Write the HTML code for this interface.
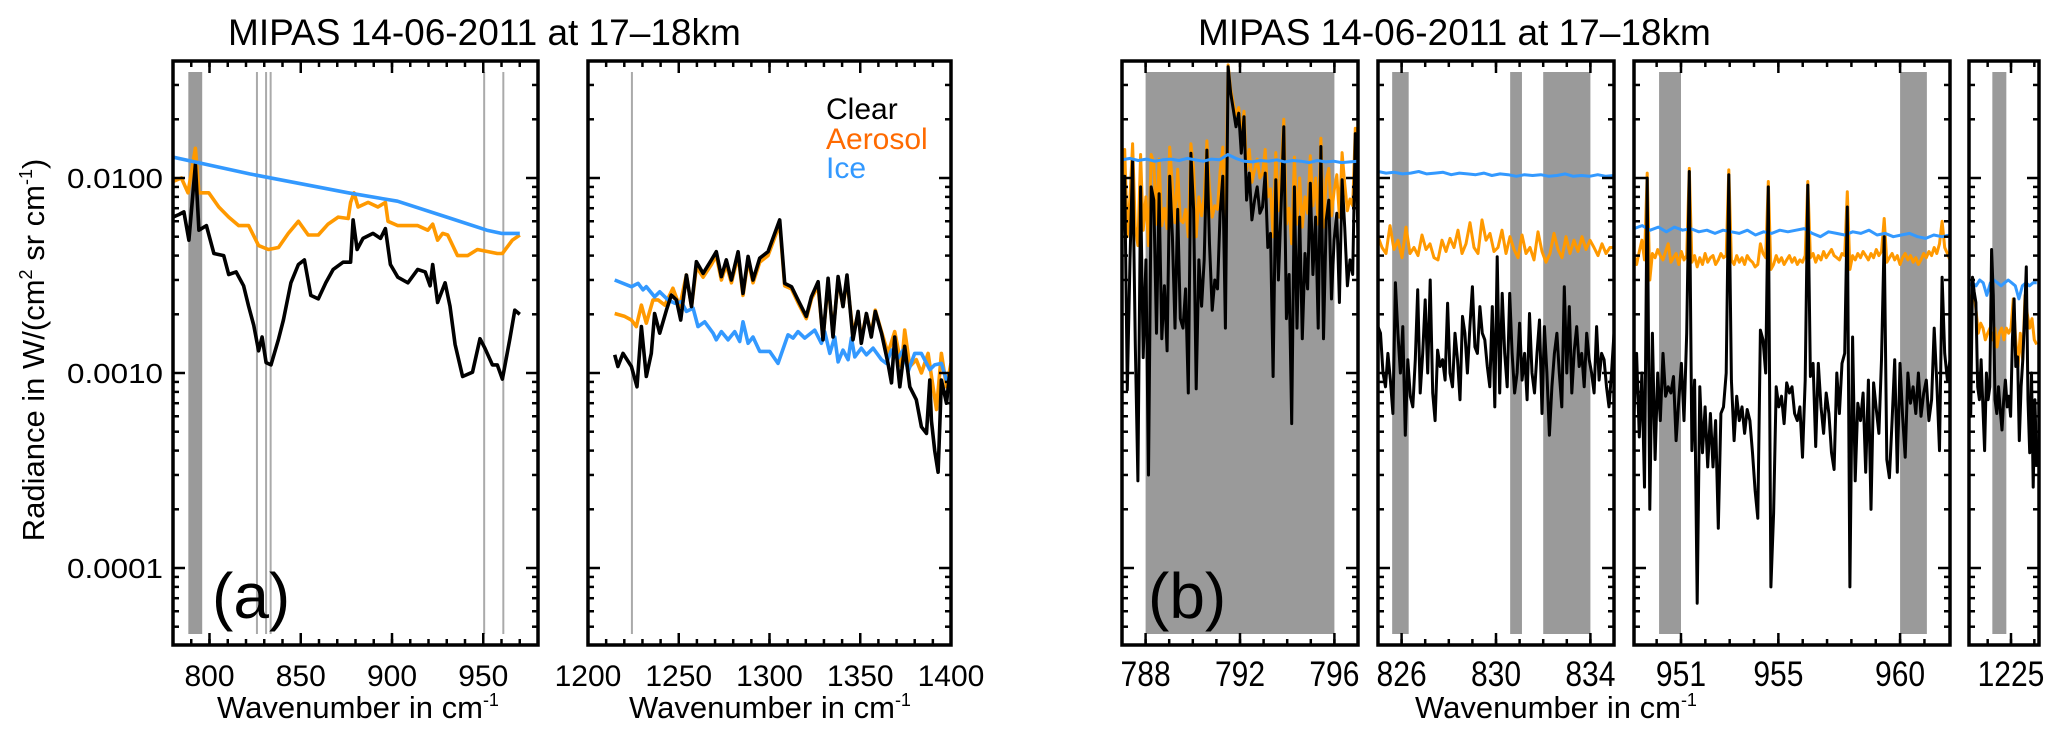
<!DOCTYPE html>
<html><head><meta charset="utf-8"><style>
html,body{margin:0;padding:0;background:#fff;}
svg{display:block;font-family:"Liberation Sans",Arial,sans-serif;}
</style></head><body>
<svg id="chart" width="2067" height="738" viewBox="0 0 2067 738" xmlns="http://www.w3.org/2000/svg">
<text x="228" y="45" font-size="37">MIPAS 14-06-2011 at 17–18km</text>
<text x="1198" y="45" font-size="37">MIPAS 14-06-2011 at 17–18km</text>
<text transform="translate(44,350) rotate(-90)" text-anchor="middle" font-size="31">Radiance in W/(cm<tspan font-size="18" dy="-12">2</tspan><tspan dy="12"> sr cm</tspan><tspan font-size="18" dy="-12">-1</tspan><tspan dy="12">)</tspan></text>
<text x="358" y="718" text-anchor="middle" font-size="31">Wavenumber in cm<tspan font-size="18" dy="-12">-1</tspan></text>
<text x="770" y="718" text-anchor="middle" font-size="31">Wavenumber in cm<tspan font-size="18" dy="-12">-1</tspan></text>
<text x="1556" y="718" text-anchor="middle" font-size="31">Wavenumber in cm<tspan font-size="18" dy="-12">-1</tspan></text>
<g id="plots"></g>
<text x="212" y="618" font-size="64">(a)</text>
<text x="1148" y="618" font-size="64">(b)</text>
<text x="826" y="119" font-size="30" fill="#000">Clear</text>
<text x="826" y="149" font-size="30" fill="#FF6A00">Aerosol</text>
<text x="826" y="178" font-size="30" fill="#3399FF">Ice</text>
</svg>
<script>
// ---------- data ----------
const a1ClearWn=[780,783.3,786,788.7,792.3,794.2,798.3,802.4,807.8,810.5,814.6,818.7,821.4,824.2,826.9,828.8,831,833.7,837.8,840.5,844.6,848.7,852,855.5,859.6,863.7,867.8,873.2,877.3,878.7,880.9,884.1,889.6,893.7,896.4,899.1,903.2,908.7,914.1,918.2,920.9,922.3,925,929.1,931.8,934.6,938.7,944.1,948.2,950.9,955,957.7,960.5,964.6,967.3,970];
const a1Clear=[0.0063,0.0065,0.0067,0.0048,0.0117,0.0054,0.0057,0.0041,0.0040,0.0032,0.0033,0.0028,0.0022,0.00176,0.0013,0.00153,0.00113,0.0011,0.00149,0.00187,0.0029,0.0036,0.0038,0.0025,0.0024,0.0029,0.0034,0.0037,0.0037,0.0061,0.0043,0.0049,0.0052,0.0049,0.0055,0.0036,0.0031,0.0029,0.0034,0.0033,0.0028,0.0036,0.0023,0.0029,0.0022,0.0014,0.00096,0.00101,0.0015,0.00134,0.0011,0.0011,0.00093,0.0015,0.0021,0.0020];
const a1AerosolWn=[780,784.6,788.2,792.3,794.2,799.6,805.1,810.5,816,821.4,826.9,832.3,837.8,843.2,848.7,854.1,859.6,865,870.5,876,877.3,879.2,881.4,886.9,892.3,896.4,897.8,903.2,914.1,919.6,922.3,925,927.7,930.5,935.9,941.4,946.8,952.3,957.7,960.5,965.9,970];
const a1Aerosol=[0.0096,0.0100,0.0084,0.0142,0.0084,0.0084,0.0071,0.0063,0.0057,0.0057,0.0045,0.0043,0.0044,0.0052,0.0060,0.0051,0.0051,0.0058,0.0063,0.0062,0.0075,0.0084,0.0071,0.0075,0.0071,0.0075,0.0060,0.0057,0.0057,0.0054,0.0058,0.0048,0.0052,0.0051,0.0040,0.0040,0.0043,0.0042,0.0041,0.0041,0.0048,0.0051];
const a1IceWn=[780,822,876,903,930,952,960,970];
const a1Ice=[0.0128,0.0105,0.0084,0.0076,0.0063,0.0054,0.0052,0.0052];

const a2ClearWn=[1214.7,1216.5,1219.3,1223.9,1227,1229.4,1232.1,1234.9,1236.7,1239.5,1243.2,1245.9,1248.7,1251.1,1254.2,1257,1259.7,1263.4,1268,1270.7,1273.5,1276.2,1279,1282.7,1285.4,1288.2,1290.9,1294.6,1299.2,1305.6,1308.4,1312.1,1315.7,1320.3,1323.1,1326.8,1329.5,1332.3,1335,1337.8,1340.5,1342.7,1346,1348.8,1350.6,1353.4,1356.1,1358.3,1361.7,1365.3,1367.2,1369,1371.8,1374.5,1377.3,1380.9,1383.7,1386.5,1388.3,1389.2,1391,1392.9,1394.7,1397.5,1399.3];
const a2Clear=[0.00124,0.00108,0.00126,0.00108,0.00085,0.00173,0.00096,0.00126,0.00202,0.0016,0.0021,0.00251,0.00237,0.00187,0.00318,0.00219,0.00372,0.00324,0.0038,0.00419,0.00312,0.0038,0.003,0.00419,0.00256,0.00396,0.003,0.00388,0.00419,0.0061,0.00288,0.00277,0.00237,0.00195,0.00246,0.00294,0.00148,0.00306,0.00153,0.00312,0.00219,0.00318,0.00148,0.00207,0.00142,0.00202,0.00153,0.00207,0.0016,0.00112,0.00089,0.00153,0.00085,0.00137,0.00085,0.00073,0.00053,0.00049,0.00092,0.00057,0.0004,0.00031,0.00092,0.0007,0.001];
const a2AerosolWn=[1214.7,1220.2,1223.9,1226.6,1229.4,1232.1,1235.8,1238.6,1242.3,1246.8,1250.5,1254.2,1257,1259.7,1263.4,1268,1270.7,1273.5,1276.2,1279,1282.7,1285.4,1288.2,1290.9,1294.6,1299.2,1305.6,1308.4,1312.1,1315.7,1320.3,1323.1,1326.8,1329.5,1332.3,1335,1337.8,1340.5,1342.7,1346,1348.8,1350.6,1353.4,1356.1,1358.3,1361.7,1365.3,1369,1372.7,1374.5,1377.3,1380.9,1383.7,1387.4,1390.1,1392,1394.7,1397.5,1400];
const a2Aerosol=[0.00202,0.00195,0.00187,0.00173,0.00223,0.0018,0.00237,0.00237,0.00223,0.00272,0.00219,0.00318,0.00219,0.0035,0.0031,0.0036,0.004,0.003,0.0036,0.0029,0.004,0.0025,0.0038,0.0029,0.0037,0.004,0.0058,0.0028,0.0027,0.0023,0.0019,0.0024,0.0028,0.0015,0.0029,0.0016,0.003,0.0022,0.003,0.0016,0.002,0.0015,0.002,0.0016,0.0021,0.00163,0.00126,0.00163,0.00108,0.00166,0.00108,0.00117,0.001,0.00126,0.00085,0.00065,0.00126,0.00085,0.00112];
const a2IceWn=[1214.7,1223.9,1227.6,1230.3,1232.1,1236.7,1239.5,1244.1,1247.8,1251.4,1254.2,1257.9,1260.6,1264.3,1268.9,1270.7,1273.5,1277.2,1280.8,1283.6,1285.4,1288.2,1290.9,1294.6,1300.1,1304.7,1310.2,1313,1315.7,1319.4,1324.9,1328.6,1330.4,1333.2,1335.9,1337.8,1340.5,1343.3,1345.1,1347,1350.6,1353.4,1357.1,1361.7,1364.4,1367.2,1370.8,1373.6,1376.4,1380,1383.7,1388.3,1391,1394.7,1397.5,1400];
const a2Ice=[0.003,0.00277,0.00288,0.00267,0.00277,0.00246,0.00261,0.00237,0.00228,0.00232,0.00207,0.00215,0.00173,0.00183,0.0016,0.00148,0.00163,0.00148,0.00163,0.00145,0.00183,0.00142,0.00153,0.00129,0.00129,0.00112,0.00157,0.00151,0.00163,0.00151,0.00166,0.00142,0.00163,0.00126,0.00153,0.00114,0.00131,0.00117,0.00151,0.00121,0.00134,0.00124,0.00134,0.00117,0.00112,0.00131,0.00119,0.00131,0.00102,0.00126,0.00126,0.00104,0.0011,0.00112,0.00092,0.00094];

const b1Clear=[0.0050,0.0102,0.00082,0.0038,0.0124,0.0014,0.00028,0.0090,0.0012,0.0038,
0.0003,0.0090,0.0077,0.0016,0.0083,0.0015,0.0028,0.0013,0.0102,0.0050,
0.0017,0.0069,0.0019,0.0017,0.0027,0.00079,0.0134,0.0069,0.00083,0.0038,
0.0022,0.0038,0.0139,0.0046,0.0021,0.0030,0.0027,0.0066,0.0102,0.0017,
0.0372,0.0272,0.0223,0.0183,0.0215,0.0134,0.0206,0.0077,0.0106,0.0061,
0.0077,0.0090,0.0066,0.0071,0.0106,0.0044,0.0052,0.00096,0.0098,0.0030,
0.0071,0.0183,0.0019,0.0032,0.00055,0.0090,0.0017,0.0063,0.0015,0.0041,
0.0027,0.0094,0.0032,0.0063,0.0017,0.0145,0.0015,0.0061,0.0077,0.0024,
0.0048,0.0066,0.0023,0.0098,0.0056,0.0028,0.0038,0.0032,0.0169,0.0050];
const b1Aerosol=[0.0092,0.0140,0.0050,0.0080,0.0150,0.0056,0.0045,0.0132,0.0054,0.0080,
0.0045,0.0132,0.0119,0.0058,0.0125,0.0057,0.0070,0.0055,0.0144,0.0092,
0.0059,0.0111,0.0061,0.0059,0.0069,0.0050,0.0150,0.0111,0.0050,0.0080,
0.0064,0.0080,0.0155,0.0088,0.0063,0.0072,0.0069,0.0108,0.0144,0.0059,
0.0380,0.0285,0.0240,0.0210,0.0230,0.0160,0.0220,0.0110,0.0140,0.0095,
0.0110,0.0125,0.0100,0.0105,0.0140,0.0080,0.0088,0.0050,0.0135,0.0068,
0.0108,0.0200,0.0058,0.0070,0.0046,0.0128,0.0058,0.0100,0.0056,0.0080,
0.0066,0.0130,0.0072,0.0100,0.0058,0.0160,0.0056,0.0098,0.0112,0.0064,
0.0086,0.0104,0.0063,0.0135,0.0094,0.0068,0.0078,0.0072,0.0180,0.0090];
const b1Ice=[0.0124,0.0126,0.0123,0.0125,0.0122,0.0124,0.0125,0.0123,0.0126,0.0124,0.0122,0.0125,0.0124,0.0132,0.0126,0.0122,0.0121,0.0123,0.0122,0.0124,0.0121,0.0123,0.0122,0.0120,0.0123,0.0121,0.0122,0.0120,0.0121,0.0122];

const b2Clear=[0.00173,0.0016,0.0010,0.00085,0.00126,0.00092,0.00062,0.0029,0.0016,0.0010,
0.00173,0.00048,0.00117,0.00076,0.00067,0.00117,0.00267,0.00079,0.00126,0.00237,
0.0010,0.0030,0.00079,0.00057,0.00131,0.00108,0.00117,0.00092,0.00228,0.0010,
0.00085,0.0016,0.00117,0.00073,0.00195,0.0016,0.0010,0.00173,0.00277,0.00136,
0.00126,0.00219,0.0016,0.00148,0.00108,0.00085,0.00219,0.00067,0.00395,0.00079,
0.00256,0.00126,0.00085,0.00256,0.00126,0.00079,0.0010,0.0018,0.00092,0.00126,
0.00073,0.00202,0.0010,0.00079,0.00126,0.00187,0.00062,0.00173,0.0010,0.00048,
0.00085,0.00126,0.0016,0.0010,0.00067,0.00277,0.0010,0.00219,0.00079,0.00131,
0.00173,0.00108,0.00126,0.00085,0.0016,0.00117,0.0010,0.00079,0.00173,0.00092,
0.00126,0.00117,0.00085,0.00067,0.0010,0.0016];
const b2Aerosol=[0.0050,0.0044,0.0041,0.0057,0.0043,0.0048,0.0039,0.0056,0.0041,0.0044,
0.0040,0.0051,0.0043,0.0046,0.0039,0.0038,0.0048,0.0042,0.0049,0.0044,
0.0054,0.0041,0.0046,0.0059,0.0044,0.0041,0.0061,0.0048,0.0052,0.0042,
0.0044,0.0054,0.0041,0.0050,0.0043,0.0039,0.0051,0.0041,0.0044,0.0038,
0.0053,0.0042,0.0037,0.0041,0.0052,0.0043,0.0039,0.0050,0.0041,0.0048,
0.0042,0.0050,0.0043,0.0048,0.0044,0.0040,0.0046,0.0041,0.0044,0.0044];
const b2Ice=[0.0108,0.0106,0.0107,0.0105,0.0106,0.0108,0.0105,0.0106,0.0107,0.0104,0.0106,0.0105,0.0104,0.0106,0.0103,0.0105,0.0104,0.0102,0.0104,0.0103,0.0104,0.0102,0.0103,0.0105,0.0102,0.0103,0.0102,0.0104,0.0102,0.0103];

const b3Clear=[0.00062,0.00126,0.00047,0.0010,0.00026,0.0100,0.0002,0.0016,0.00036,0.0010,
0.00057,0.00126,0.00076,0.00085,0.00079,0.00096,0.00045,0.00073,0.00112,0.00057,
0.0016,0.0108,0.0004,0.00092,0.000066,0.00085,0.00039,0.00067,0.00033,0.00062,
0.00033,0.00057,0.00016,0.00062,0.00067,0.0010,0.0104,0.00092,0.00045,0.00076,
0.00057,0.00067,0.00049,0.00065,0.00057,0.00039,0.00025,0.00018,0.00166,0.00148,
0.0010,0.0090,0.00008,0.00019,0.00085,0.00067,0.00076,0.00055,0.00089,0.00079,
0.00085,0.00062,0.00057,0.00067,0.00037,0.00092,0.0092,0.00096,0.00112,0.00042,
0.00112,0.00067,0.00049,0.00079,0.00062,0.00039,0.00032,0.0010,0.00062,0.00112,
0.00126,0.0071,0.00008,0.00153,0.00028,0.0007,0.00057,0.00079,0.00031,0.00092,
0.0002,0.00089,0.00065,0.00049,0.00117,0.0050,0.00036,0.00029,0.00057,0.00117,
0.00031,0.00112,0.0006,0.00037,0.0010,0.0007,0.00085,0.00062,0.0010,0.0006,
0.00079,0.00092,0.00057,0.00073,0.0017,0.00089,0.0004,0.0031,0.00126,0.00092,
0.00117];
const b3Aerosol=[0.0040,0.0036,0.0042,0.0048,0.0038,0.0106,0.0030,0.0041,0.0039,0.0043,
0.0040,0.0038,0.0042,0.0046,0.0037,0.0039,0.0041,0.0036,0.0042,0.0038,
0.0040,0.0112,0.0037,0.0040,0.0035,0.0039,0.0036,0.0041,0.0037,0.0039,
0.0040,0.0036,0.0038,0.0041,0.0039,0.0040,0.0110,0.0038,0.0036,0.0040,
0.0037,0.0039,0.0036,0.0040,0.0038,0.0037,0.0035,0.0036,0.0046,0.0041,
0.0039,0.0096,0.0034,0.0036,0.0040,0.0037,0.0039,0.0036,0.0038,0.0040,
0.0037,0.0039,0.0036,0.0038,0.0037,0.0040,0.0096,0.0039,0.0041,0.0037,
0.0040,0.0038,0.0042,0.0039,0.0041,0.0043,0.0040,0.0039,0.0038,0.0041,
0.0040,0.0085,0.0034,0.0040,0.0038,0.0041,0.0039,0.0042,0.0040,0.0038,
0.0041,0.0039,0.0043,0.0040,0.0042,0.0062,0.0037,0.0039,0.0041,0.0038,
0.0040,0.0036,0.0039,0.0041,0.0038,0.0040,0.0037,0.0039,0.0036,0.0038,
0.0041,0.0039,0.0042,0.0040,0.0044,0.0041,0.0046,0.0060,0.0044,0.0041,
0.0038];
const b3Ice=[0.0055,0.0057,0.0054,0.0056,0.0053,0.0056,0.0054,0.0055,0.0053,0.0054,0.0052,0.0054,0.0053,0.0052,0.0054,0.0051,0.0053,0.0052,0.0054,0.0053,0.0054,0.0055,0.0052,0.0050,0.0053,0.0052,0.0051,0.0053,0.0052,0.0054,0.0051,0.0052,0.0050,0.0051,0.0052,0.0050,0.0049,0.0051,0.0050,0.0051];

const b4Clear=[0.00148,0.0006,0.0031,0.0026,0.0023,0.00085,0.00073,0.00117,0.00067,0.0004,0.0010,0.00073,0.00085,0.0043,0.0025,0.00073,0.00062,0.00085,0.00065,0.00051,0.00073,0.00092,0.00067,0.00076,0.0006,0.00148,0.0024,0.00108,0.00121,0.00045,0.00085,0.00117,0.0019,0.0035,0.00073,0.00039,0.0010,0.00026,0.00073,0.00033];
const b4Aerosol=[0.00148,0.0024,0.0027,0.0021,0.0016,0.0018,0.0017,0.00148,0.0016,0.0017,0.00148,0.0017,0.00136,0.0016,0.0017,0.00148,0.0017,0.0016,0.0017,0.0024,0.00148,0.00108,0.0016,0.00117,0.0025,0.0020,0.0017,0.0019,0.00148,0.0014];
const b4Ice=[0.0028,0.0029,0.0028,0.0030,0.0029,0.0025,0.0029,0.0030,0.0029,0.0028,0.0029,0.0030,0.0029,0.0028,0.0024,0.0028,0.0029,0.0028,0.0029,0.0029];

const yMajorTicks=[0.01,0.001,0.0001];
const yTickLabels=['0.0100','0.0010','0.0001'];
const a1XTicks=[800,850,900,950];
const a2XTicks=[1200,1250,1300,1350,1400];
const b1XTicks=[788,792,796];
const b2XTicks=[826,830,834];
const b3XTicks=[951,955,960];
const b4XTicks=[1225];
const a1Bands=[[788.4,796]];
const a1Lines=[826,831,833.5,950.5,961];
const a2Lines=[1224.2];
const b1Bands=[[788.0,796.0]];
const b2Bands=[[825.6,826.3],[830.6,831.1],[832.0,834.0]];
const b3Bands=[[950.1,951.0],[960.0,961.1]];
const b4Bands=[[1224.2,1224.8]];

// ---------- layout ----------
const TOP=61,BOT=645,BAND_TOP=72,BAND_BOT=634;
const C_CLEAR='#000',C_AER='#FF9900',C_ICE='#3399FF';
function yPix(v){return 178-(Math.log10(v)+2)*195;}
const svgNS='http://www.w3.org/2000/svg';
const root=document.getElementById('plots');
function mk(tag,attrs,parent){const e=document.createElementNS(svgNS,tag);for(const k in attrs)e.setAttribute(k,attrs[k]);(parent||root).appendChild(e);return e;}

function panel(cfg){
  const {id,x0,x1,d0,d1}=cfg;
  const xPix=w=>x0+(w-d0)/(d1-d0)*(x1-x0);
  const g=mk('g',{});
  
  
  const cp=mk('clipPath',{id:'clip-'+id},g);
  mk('rect',{x:x0,y:TOP,width:x1-x0,height:BOT-TOP},cp);
  const inner=mk('g',{'clip-path':'url(#clip-'+id+')'},g);
  (cfg.bands||[]).forEach(b=>{
    const r=mk('rect',{x:xPix(b[0]),y:BAND_TOP,width:xPix(b[1])-xPix(b[0]),height:BAND_BOT-BAND_TOP,fill:'#9a9a9a'},inner);
    
    
  });
  (cfg.lines||[]).forEach(w=>{
    const l=mk('line',{x1:xPix(w),x2:xPix(w),y1:BAND_TOP,y2:BAND_BOT,stroke:'#aaa','stroke-width':2},inner);
    
    
  });
  cfg.series.forEach(s=>{
    const n=s.v.length;
    const pts=s.v.map((v,i)=>{const w=s.wn?s.wn[i]:s.r[0]+i*(s.r[1]-s.r[0])/(n-1);return xPix(w).toFixed(1)+','+yPix(v).toFixed(1);}).join(' ');
    const p=mk('polyline',{points:pts,fill:'none',stroke:s.c,'stroke-width':cfg.sw,'stroke-linejoin':'round'},inner);
    
    
  });
  const tg=mk('g',{stroke:'#000','stroke-width':2.5},g);
  for(let w=Math.ceil(d0);w<=d1;w+=cfg.minor){
    const xm=xPix(w); if(xm<x0+2||xm>x1-2)continue;
    mk('line',{x1:xm,x2:xm,y1:BOT,y2:BOT-6},tg);mk('line',{x1:xm,x2:xm,y1:TOP,y2:TOP+6},tg);
  }
  cfg.ticks.forEach(w=>{
    const xm=xPix(w);
    mk('line',{x1:xm,x2:xm,y1:BOT,y2:BOT-12},tg);mk('line',{x1:xm,x2:xm,y1:TOP,y2:TOP+12},tg);
    const lab=String(w);
    const attrs={x:xm,y:686,'text-anchor':'middle','font-size':cfg.lfs,fill:'#000'};
    if(cfg.narrow){attrs.textLength=lab.length*16.7;attrs.lengthAdjust='spacingAndGlyphs';}
    const t=mk('text',attrs,g);
    t.textContent=lab;
    
    
  });
  for(let e=-5;e<=-2;e++){for(let m=1;m<=9;m++){
    const v=m*Math.pow(10,e),y=yPix(v); if(y<TOP+2||y>BOT-2)continue;
    const L=m===1?12:6;
    mk('line',{x1:x0,x2:x0+L,y1:y,y2:y},tg);mk('line',{x1:x1,x2:x1-L,y1:y,y2:y},tg);
  }}
  if(cfg.ylabels){yMajorTicks.forEach((v,i)=>{
    const t=mk('text',{x:67,y:yPix(v)+10,'font-size':28,fill:'#000',textLength:96,lengthAdjust:'spacingAndGlyphs'},g);
    t.textContent=yTickLabels[i];
    
    
  });}
  const fr=mk('rect',{x:x0,y:TOP,width:x1-x0,height:BOT-TOP,fill:'none',stroke:'#000','stroke-width':3.5},g);
  
  
}

panel({id:'a1',x0:173,x1:538,d0:780,d1:980,minor:10,ticks:a1XTicks,ylabels:true,sw:3.6,lfs:30,bands:a1Bands,lines:a1Lines,series:[
 {name:'aerosol-line',c:C_AER,wn:a1AerosolWn,v:a1Aerosol},{name:'clear-line',c:C_CLEAR,wn:a1ClearWn,v:a1Clear},{name:'ice-line',c:C_ICE,wn:a1IceWn,v:a1Ice}]});
panel({id:'a2',x0:588,x1:951,d0:1200,d1:1400,minor:10,ticks:a2XTicks,sw:3.6,lfs:30,lines:a2Lines,series:[
 {name:'aerosol-line',c:C_AER,wn:a2AerosolWn,v:a2Aerosol},{name:'ice-line',c:C_ICE,wn:a2IceWn,v:a2Ice},{name:'clear-line',c:C_CLEAR,wn:a2ClearWn,v:a2Clear}]});
panel({id:'b1',x0:1122,x1:1358,d0:787,d1:797,minor:1,ticks:b1XTicks,sw:3,lfs:35,narrow:true,bands:b1Bands,series:[
 {name:'aerosol-line',c:C_AER,r:[787,797],v:b1Aerosol},{name:'clear-line',c:C_CLEAR,r:[787,797],v:b1Clear},{name:'ice-line',c:C_ICE,r:[787,797],v:b1Ice}]});
panel({id:'b2',x0:1378,x1:1614,d0:825,d1:835,minor:1,ticks:b2XTicks,sw:3,lfs:35,narrow:true,bands:b2Bands,series:[
 {name:'aerosol-line',c:C_AER,r:[825,835],v:b2Aerosol},{name:'ice-line',c:C_ICE,r:[825,835],v:b2Ice},{name:'clear-line',c:C_CLEAR,r:[825,835],v:b2Clear}]});
panel({id:'b3',x0:1634,x1:1950,d0:949.07,d1:962.05,minor:1,ticks:b3XTicks,sw:3,lfs:35,narrow:true,bands:b3Bands,series:[
 {name:'aerosol-line',c:C_AER,r:[949.07,962.05],v:b3Aerosol},{name:'ice-line',c:C_ICE,r:[949.07,962.05],v:b3Ice},{name:'clear-line',c:C_CLEAR,r:[949.07,962.05],v:b3Clear}]});
panel({id:'b4',x0:1969,x1:2039,d0:1223.2,d1:1226.2,minor:1,ticks:b4XTicks,sw:3,lfs:35,narrow:true,bands:b4Bands,series:[
 {name:'aerosol-line',c:C_AER,r:[1223.2,1226.1],v:b4Aerosol},{name:'ice-line',c:C_ICE,r:[1223.2,1226.1],v:b4Ice},{name:'clear-line',c:C_CLEAR,r:[1223.2,1226.1],v:b4Clear}]});
</script>
</body></html>
